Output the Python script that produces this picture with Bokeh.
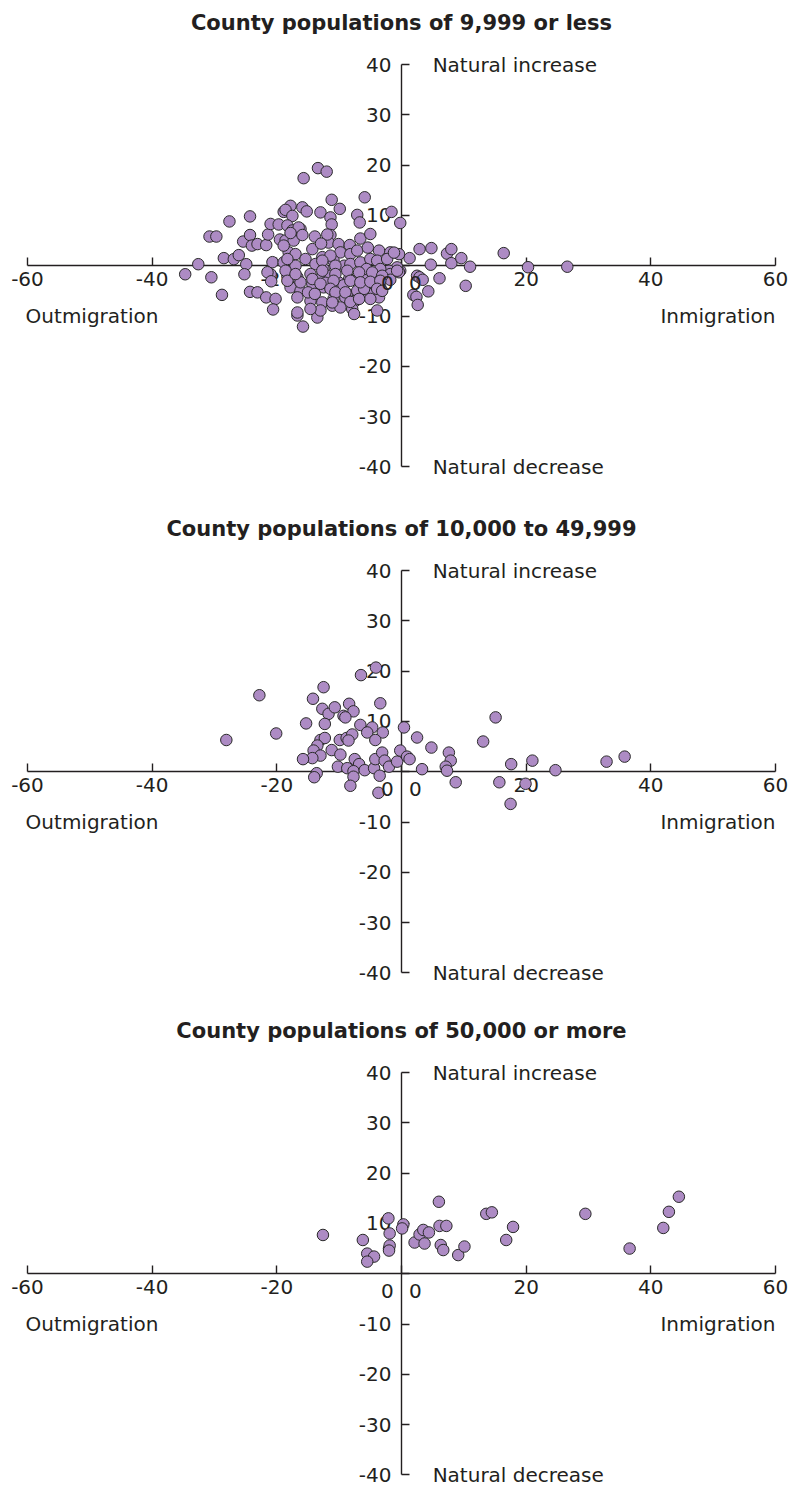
from bokeh.plotting import figure
from bokeh.layouts import column
from bokeh.models import FixedTicker
from bokeh.core.properties import value
from bokeh.embed import file_html
from bokeh.resources import INLINE

titles = ["County populations of 9,999 or less",
          "County populations of 10,000 to 49,999",
          "County populations of 50,000 or more"]

x_ticks = [-60, -40, -20, 0, 20, 40, 60]
y_ticks = [-40, -30, -20, -10, 0, 10, 20, 30, 40]

# Panel 1: counties of 9,999 or less (net migration rate, natural change rate)
p1_x = [-27.6, -24.3, -30.8, -29.7, -25.4, -24.3, -24.0, -23.1, -21.7, -21.4, -21.0, -19.7, -19.5, -18.9,
        -32.6, -34.7, -30.5, -28.5, -26.9, -26.1, -24.9, -25.2, -28.8, -24.3, -23.1, -21.7, -20.2, -20.6,
        -20.7, -21.0, -21.5, -20.9,
        -15.7, -13.4, -12.0, -11.2, -5.9, -9.9, -7.1, -6.7, -1.6, -0.2, -13.0, -11.4, -11.2, -15.9, -15.2,
        -17.8, -18.6, -17.5, -18.3, -16.7, -15.8, -13.5,
        1.3, 2.9, 4.8, 4.7, 7.3, 8.0, 8.0, 9.6, 11.0, 16.4, 20.3, 26.6, 2.5, 2.9, 3.4, 6.1, 4.3, 10.3, 1.9,
        2.4, 2.6, -0.2,
        -18.6, -17.3, -17.5, -16.2, -13.9, -11.4, -11.7, -10.1, -8.3, -6.6, -5.0,
        -18.1, -17.0, -14.3, -12.7, -9.8, -8.2, -7.1, -5.4, -3.6, -1.8, -0.4,
        -18.9, -17.0, -15.4, -13.8, -12.5, -10.9, -9.2, -8.2, -6.6, -5.0, -3.9, -2.3, -0.7,
        -18.3, -16.7, -14.6, -13.0, -11.4, -10.1, -8.4, -6.8, -5.5, -3.9, -2.0, -0.4,
        -17.8, -16.2, -14.3, -12.5, -10.3, -8.7, -7.1, -5.2, -3.4,
        -16.7, -14.6, -12.7, -10.9, -9.0, -7.4, -5.2, -3.6,
        -16.7, -13.0, -11.1, -7.9, -3.9,
        -16.5, -17.8, -15.9, -11.9, -12.9, -18.9, -11.4, -10.6, -5.6, -3.4, -18.6, -10.6, -8.7, -6.8, -4.7,
        -1.8, -18.3, -16.2, -9.3, -1.8, -12.2, -15.0, -13.9, -6.0, -9.8, -5.0, -14.6, -7.6,
        -1.2, -18.3, -12.7, -0.7, -17.0, -12.7, -3.1, -14.3, -13.0, -10.9, -8.2, -6.6, -5.0, -3.4,
        -11.4, -10.6, -9.0, -3.9, -3.1, -11.1, -8.2, -6.8]
p1_y = [8.8, 9.8, 5.8, 5.8, 4.8, 6.1, 4.0, 4.3, 4.1, 6.2, 8.3, 8.2, 5.2, 10.7,
        0.3, -1.7, -2.3, 1.5, 1.3, 2.1, 0.3, -1.7, -5.8, -5.2, -5.3, -6.3, -6.6, -8.7,
        0.7, -1.7, -1.3, -3.1,
        17.4, 19.4, 18.7, 13.1, 13.6, 11.3, 10.1, 8.6, 10.7, 8.5, 10.6, 9.6, 8.2, 11.6, 10.8,
        11.9, 11.1, 9.9, 8.0, -9.9, -12.1, -10.3,
        1.5, 3.3, 3.5, 0.2, 2.4, 3.3, 0.5, 1.5, -0.2, 2.5, -0.3, -0.2, -2.0, -2.3, -2.8, -2.5, -5.1, -4.0, -5.8,
        -6.2, -7.8, -1.0,
        5.0, 5.0, 7.0, 7.3, 5.8, 6.1, 4.6, 4.3, 4.1, 5.4, 6.3,
        2.65, 2.3, 3.3, 1.7, 2.65, 2.3, 3.0, 3.6, 3.0, 2.65, 2.3,
        0.66, 0.0, 1.33, 0.33, -0.66, 1.0, 0.0, 0.33, 0.66, 1.33, 1.0, 1.33, -0.33,
        -2.0, -2.3, -1.66, -2.65, -2.0, -3.3, -2.65, -3.0, -2.0, -2.0, -1.0, -1.3,
        -4.3, -5.0, -3.6, -4.3, -4.6, -5.6, -5.0, -4.0, -4.3,
        -6.3, -7.0, -7.3, -6.6, -6.3, -7.0, -5.6, -6.3,
        -9.3, -8.9, -7.95, -8.6, -8.9,
        7.6, 6.5, 6.1, 6.2, 4.4, 4.0, 2.0, 0.0, -0.66, -0.66, -1.0, -1.66, -1.0, -1.33, -1.33,
        -1.66, -3.0, -3.3, -3.9, -2.8, -3.4, -5.3, -5.6, -4.6, -8.3, -6.6, -8.6, -9.6,
        2.6, 1.33, 1.0, -1.0, -1.66, -1.0, -2.0, -2.65, -3.6, -3.0, -3.0, -3.3, -3.2, -3.0,
        -4.6, -5.3, -5.3, -4.6, -5.0, -7.3, -7.2, -6.6]

# Panel 2: counties of 10,000 to 49,999
p2_x = [-28.1, -22.8, -20.1, -15.3, -14.2, -12.5, -12.7, -11.7, -12.3, -10.7, -8.4, -7.7, -9.3, -9.0,
        -6.5, -4.1, -3.4, -6.6, -4.7, -5.5, -3.0, -4.2, 0.4, 2.5, -13.0, -12.3, -9.9, -8.8, -7.9, -8.5,
        -13.5, -14.1, -13.0, -14.3, -15.8, -11.2, -9.8, -7.5, -6.8, -10.2, -8.7, -7.7, -7.7, -5.9, -4.4,
        -4.2, -3.1, -2.7, -3.5, -2.0, -0.7, -0.2, 0.9, 1.3, -13.6, -14.0, -8.2, -3.7,
        4.8, 3.3, 7.6, 7.9, 7.1, 7.3, 8.7, 13.1, 15.1, 15.7, 17.6, 17.5, 19.9, 21.0, 24.7, 32.9, 35.8]
p2_y = [6.3, 15.2, 7.6, 9.6, 14.5, 16.8, 12.5, 11.5, 9.5, 12.8, 13.5, 12.0, 11.1, 10.8,
        19.2, 20.7, 13.6, 9.3, 8.8, 7.8, 7.8, 6.3, 8.8, 6.8, 6.3, 6.7, 6.3, 6.7, 7.4, 6.2,
        5.2, 4.2, 3.2, 2.7, 2.5, 4.3, 3.4, 2.5, 1.5, 1.0, 0.7, 0.1, -1.0, 0.3, 0.7,
        2.5, 3.8, 2.2, -0.8, 1.0, 2.0, 4.2, 3.0, 2.5, -0.3, -1.1, -2.8, -4.2,
        4.8, 0.5, 3.8, 2.2, 1.0, 0.2, -2.1, 6.0, 10.8, -2.1, 1.5, -6.4, -2.4, 2.2, 0.3, 2.0, 3.0]

# Panel 3: counties of 50,000 or more
p3_x = [-12.6, -6.2, -5.5, -4.4, -5.5, -2.1, -1.9, -2.0, -1.9, 0.3, 0.1, 2.1, 2.9, 3.5, 4.4, 3.7,
        6.0, 6.1, 7.2, 6.3, 6.7, 9.1, 10.1, 13.6, 14.5, 16.8, 17.9, 29.5, 36.6, 42.0, 42.9, 44.5, -2.0]
p3_y = [7.7, 6.7, 4.0, 3.4, 2.4, 11.0, 8.0, 5.0, 5.6, 9.8, 9.0, 6.2, 7.8, 8.7, 8.2, 6.0,
        14.3, 9.5, 9.5, 5.7, 4.7, 3.7, 5.4, 11.9, 12.2, 6.7, 9.3, 11.9, 5.0, 9.1, 12.3, 15.3, 4.6]

TXT = "#231f20"
FONT = value("DejaVu Sans")
PXU = 5.03         # screen pixels per y unit
TOP_PX = 64        # pixels from figure top to y=40
X_RANGE = (-64.33, 62.73)


def make_panel(title, xs, ys, height):
    y_top = 40 + TOP_PX / PXU
    y_bot = y_top - height / PXU
    p = figure(width=792, height=height, x_range=X_RANGE, y_range=(y_bot, y_top),
               output_backend="svg", toolbar_location=None, min_border=0)
    p.outline_line_color = None
    p.grid.visible = False
    p.background_fill_color = "white"
    p.border_fill_color = "white"

    for ax, ticks in ((p.xaxis, x_ticks), (p.yaxis, y_ticks)):
        ax.fixed_location = 0
        ax.ticker = FixedTicker(ticks=ticks)
        ax.axis_line_color = TXT
        ax.axis_line_width = 1.4
        ax.major_tick_line_color = TXT
        ax.major_tick_line_width = 1.4
        ax.major_tick_in = 8
        ax.major_tick_out = 0
        ax.minor_tick_line_color = None
        ax.major_label_text_font = "DejaVu Sans"
        ax.major_label_text_font_size = "20px"
        ax.major_label_text_color = TXT
        ax.major_label_overrides = {t: ("" if t == 0 else str(t)) for t in ticks}
        ax.level = "underlay"
    p.xaxis.bounds = (-60, 60)
    p.yaxis.bounds = (-40, 40)
    p.xaxis.major_label_standoff = 6
    p.yaxis.major_label_standoff = 10

    p.scatter(xs, ys, size=11.5, fill_color="#ad8bc4", line_color="#2a2a2a", line_width=1.0)

    # origin labels
    p.text(x=[0, 0], y=[0, 0], text=["0", "0"], x_offset=[-14, 14], y_offset=[17, 17],
           text_font=FONT, text_font_size="20px", text_color=TXT,
           text_align="center", text_baseline="middle")
    # quadrant labels
    p.text(x=[5.0, 5.0], y=[40, -40], text=["Natural increase", "Natural decrease"],
           text_font=FONT, text_font_size="20px", text_color=TXT,
           text_align="left", text_baseline="middle")
    p.text(x=[-60.3], y=[-10], text=["Outmigration"], text_font=FONT, text_font_size="20px",
           text_color=TXT, text_align="left", text_baseline="middle")
    p.text(x=[60], y=[-10], text=["Inmigration"], text_font=FONT, text_font_size="20px",
           text_color=TXT, text_align="right", text_baseline="middle")
    # title
    p.text(x=[0], y=[40 + 42 / PXU], text=[title], text_font=FONT, text_font_style="bold",
           text_font_size="21px", text_color=TXT, text_align="center", text_baseline="middle")
    return p


p1 = make_panel(titles[0], p1_x, p1_y, 506)
p2 = make_panel(titles[1], p2_x, p2_y, 502)
p3 = make_panel(titles[2], p3_x, p3_y, 480)

layout = column(p1, p2, p3, spacing=0)
open("out.html", "w").write(file_html(layout, INLINE))
